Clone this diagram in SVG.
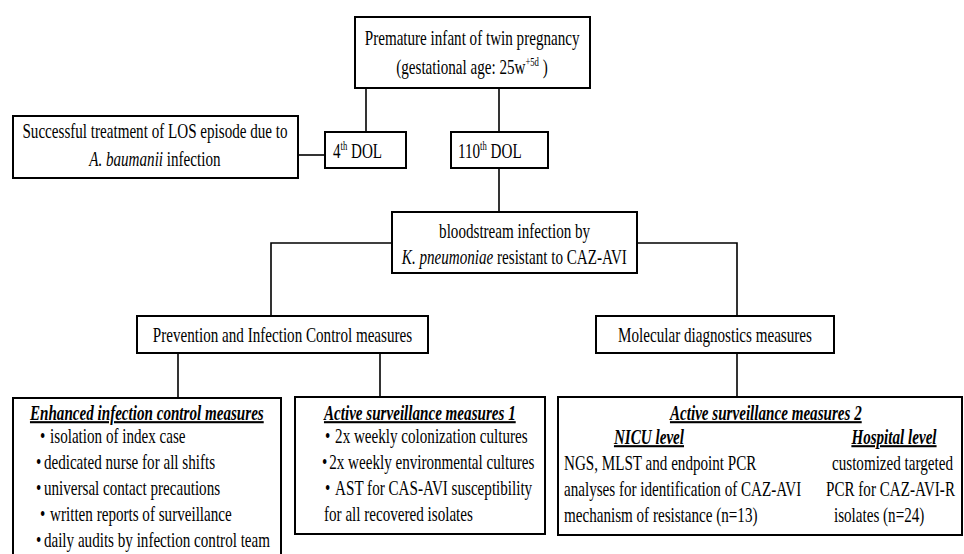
<svg xmlns="http://www.w3.org/2000/svg" width="964" height="554" viewBox="0 0 964 554">
<style>
text { font-family: "Liberation Serif", "Times New Roman", serif; font-size: 21px; fill: #000; transform-box: fill-box; transform: scaleX(0.72); }
.m { text-anchor: middle; transform-origin: center; }
.s { transform-origin: left center; }
.t { font-weight: bold; font-style: italic; text-decoration: underline; }
.i { font-style: italic; }
.sup { font-size: 12px; }
.box { fill: #fff; stroke: #000; stroke-width: 2; }
.conn path { fill: none; stroke: #000; stroke-width: 1.6; }
</style>
<rect width="964" height="554" fill="#fff"/>
<g class="conn" id="connectors">
  <path d="M366 88V132"/>
  <path d="M499 88V132"/>
  <path d="M298 155H325"/>
  <path d="M499 168V212"/>
  <path d="M392 243H271V316"/>
  <path d="M637 243H737V316"/>
  <path d="M178 353V398"/>
  <path d="M380 353V397"/>
  <path d="M737 353V397"/>
</g>
<g id="n-premature">
  <rect class="box" x="355" y="17" width="235" height="71"/>
  <text class="m" x="472" y="45">Premature infant of twin pregnancy</text>
  <text class="m" x="472" y="74">(gestational age: 25w<tspan class="sup" dy="-8">+5d</tspan><tspan dy="8"> )</tspan></text>
</g>
<g id="n-successful">
  <rect class="box" x="13" y="116" width="285" height="62"/>
  <text class="m" x="155" y="138">Successful treatment of LOS episode due to</text>
  <text class="m" x="155" y="166"><tspan class="i">A. baumanii</tspan> infection</text>
</g>
<g id="n-dol4">
  <rect class="box" x="325" y="132" width="81" height="36"/>
  <text class="s" x="333" y="158">4<tspan class="sup" dy="-8">th</tspan><tspan dy="8"> DOL</tspan></text>
</g>
<g id="n-dol110">
  <rect class="box" x="451" y="132" width="97" height="36"/>
  <text class="s" x="458" y="158">110<tspan class="sup" dy="-8">th</tspan><tspan dy="8"> DOL</tspan></text>
</g>
<g id="n-bloodstream">
  <rect class="box" x="392" y="212" width="245" height="61"/>
  <text class="m" x="514.5" y="238">bloodstream infection by</text>
  <text class="m" x="514.5" y="264"><tspan class="i">K. pneumoniae</tspan> resistant to CAZ-AVI</text>
</g>
<g id="n-prevention">
  <rect class="box" x="137" y="316" width="291" height="37"/>
  <text class="m" x="282.5" y="342">Prevention and Infection Control measures</text>
</g>
<g id="n-molecular">
  <rect class="box" x="596" y="316" width="238" height="37"/>
  <text class="m" x="715" y="342">Molecular diagnostics measures</text>
</g>
<g id="n-enhanced">
  <rect class="box" x="13" y="398" width="268" height="162"/>
  <text class="m t" x="147" y="420">Enhanced infection control measures</text>
  <text class="s" x="40" y="443">•<tspan x="54">isolation of index case</tspan></text>
  <text class="s" x="36" y="469">•<tspan x="47">dedicated nurse for all shifts</tspan></text>
  <text class="s" x="36" y="495">•<tspan x="47">universal contact precautions</tspan></text>
  <text class="s" x="40" y="521">•<tspan x="54">written reports of surveillance</tspan></text>
  <text class="s" x="36" y="547">•<tspan x="47">daily audits by infection control team</tspan></text>
</g>
<g id="n-active1">
  <rect class="box" x="295" y="397" width="250" height="137"/>
  <text class="m t" x="420" y="420">Active surveillance measures 1</text>
  <text class="s" x="325" y="443">•<tspan x="339">2x weekly colonization cultures</tspan></text>
  <text class="s" x="322" y="469">•<tspan x="332">2x weekly environmental cultures</tspan></text>
  <text class="s" x="325" y="495">•<tspan x="339">AST for CAS-AVI susceptibility</tspan></text>
  <text class="s" x="324" y="521">for all recovered isolates</text>
</g>
<g id="n-active2">
  <rect class="box" x="558" y="397" width="404" height="138"/>
  <text class="m t" x="766" y="420">Active surveillance measures 2</text>
  <text class="m t" x="649" y="444">NICU level</text>
  <text class="m t" x="894" y="444">Hospital level</text>
  <text class="s" x="564" y="470">NGS, MLST and endpoint PCR</text>
  <text class="s" x="564" y="496">analyses for identification of CAZ-AVI</text>
  <text class="s" x="564" y="522">mechanism of resistance (n=13)</text>
  <text class="s" x="832" y="470">customized targeted</text>
  <text class="s" x="826" y="496">PCR for CAZ-AVI-R</text>
  <text class="s" x="834" y="522">isolates (n=24)</text>
</g>
</svg>
